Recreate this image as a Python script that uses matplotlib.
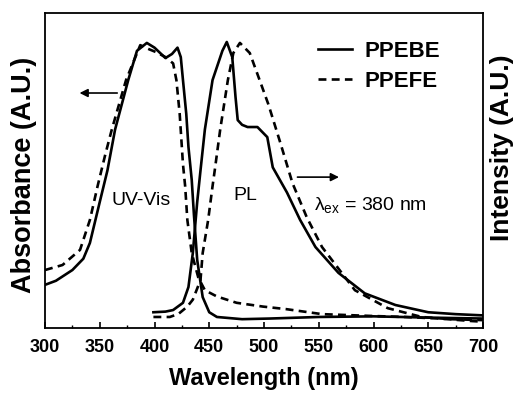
import matplotlib
matplotlib.use("Agg")
import matplotlib.pyplot as plt

# Datos -------------------------------------------------------------------
# UV-Vis (absorbancia, normalizada 0-1 en el eje)
uv_ppebe_x = [300, 310, 325, 335, 341, 350, 357, 364, 376, 384, 393, 400, 410,
              416, 421, 424, 426, 429, 431, 434, 436, 439, 444, 450, 457, 480,
              505, 550, 600, 650, 700]
uv_ppebe_y = [0.137, 0.15, 0.184, 0.22, 0.27, 0.40, 0.50, 0.63, 0.787, 0.88,
              0.905, 0.89, 0.857, 0.87, 0.89, 0.86, 0.787, 0.68, 0.575, 0.47,
              0.36, 0.216, 0.098, 0.05, 0.035, 0.028, 0.03, 0.035, 0.037, 0.033, 0.03]

uv_ppefe_x = [300, 316, 332, 341, 348, 355, 361, 374, 387, 395, 402, 410, 417,
              420, 423, 426, 428, 430, 434, 440, 446, 457, 475, 499, 520, 553,
              600, 629, 660, 690, 700]
uv_ppefe_y = [0.184, 0.20, 0.248, 0.343, 0.45, 0.55, 0.63, 0.787, 0.898, 0.885,
              0.875, 0.86, 0.84, 0.787, 0.68, 0.52, 0.45, 0.343, 0.238, 0.16,
              0.12, 0.10, 0.08, 0.068, 0.06, 0.044, 0.038, 0.035, 0.03, 0.022, 0.02]

# PL (intensidad, normalizada 0-1 en el eje)
pl_ppebe_x = [399, 410, 417, 426, 431, 435, 439, 442, 446, 453, 462, 466, 471,
              474, 476, 480, 485, 494, 503, 508, 521, 533, 547, 568, 592, 620,
              650, 675, 700]
pl_ppebe_y = [0.05, 0.052, 0.057, 0.08, 0.13, 0.238, 0.40, 0.50, 0.63, 0.787,
              0.88, 0.908, 0.86, 0.733, 0.66, 0.645, 0.638, 0.638, 0.606, 0.51,
              0.43, 0.343, 0.257, 0.175, 0.11, 0.073, 0.05, 0.044, 0.04]

pl_ppefe_x = [399, 414, 422, 430, 435, 442, 444, 449, 453, 455, 460, 467, 472,
              478, 487, 496, 504, 515, 526, 539, 553, 562, 583, 613, 644, 670, 700]
pl_ppefe_y = [0.035, 0.035, 0.045, 0.068, 0.09, 0.152, 0.238, 0.343, 0.45, 0.50,
              0.63, 0.787, 0.873, 0.905, 0.873, 0.787, 0.71, 0.587, 0.46, 0.352,
              0.257, 0.216, 0.12, 0.063, 0.035, 0.028, 0.025]

xticks = [300, 350, 400, 450, 500, 550, 600, 650, 700]

# Grafico -----------------------------------------------------------------
plt.rcParams["font.family"] = ["Liberation Sans", "DejaVu Sans"]
plt.rcParams["mathtext.fontset"] = "custom"
plt.rcParams["mathtext.rm"] = "Liberation Sans"

W, H = 515, 396
fig = plt.figure(figsize=(W / 100, H / 100), dpi=100)
ax = fig.add_axes([45 / W, 68 / H, 438 / W, 315 / H])

lw = 1.9
dash = (0, (3.0, 2.0))
ax.plot(uv_ppebe_x, uv_ppebe_y, color="black", lw=lw, label="PPEBE")
ax.plot(uv_ppefe_x, uv_ppefe_y, color="black", lw=lw, ls=dash, label="PPEFE")
ax.plot(pl_ppebe_x, pl_ppebe_y, color="black", lw=lw)
ax.plot(pl_ppefe_x, pl_ppefe_y, color="black", lw=lw, ls=dash)

ax.set_xlim(300, 700)
ax.set_ylim(0, 1)
ax.set_xticks(xticks)
ax.set_xticks(range(325, 700, 50), minor=True)
ax.tick_params(axis="x", which="major", direction="in", length=4, width=1.2,
               labelsize=13, pad=8)
ax.tick_params(axis="x", which="minor", direction="in", length=2.5, width=1.0)
for lab in ax.get_xticklabels():
    lab.set_fontweight("bold")
ax.set_yticks([])
for s in ax.spines.values():
    s.set_linewidth(1.3)

ax.set_xlabel("Wavelength (nm)", fontsize=17, fontweight="bold", labelpad=8)
fig.text(24 / W, 1 - 175 / H, "Absorbance (A.U.)", rotation=90, fontsize=19.5,
         fontweight="bold", ha="center", va="center")
fig.text(514 / W, 1 - 148 / H, "Intensity (A.U.)", rotation=90, fontsize=19,
         fontweight="bold", ha="right", va="center")

leg = ax.legend(loc="upper left", bbox_to_anchor=(318 / W, 1 - 41 / H),
                bbox_transform=fig.transFigure, frameon=False, borderpad=0,
                borderaxespad=0, fontsize=16, handlelength=1.55,
                handletextpad=0.55, labelspacing=0.4)
for t in leg.get_texts():
    t.set_fontweight("bold")

ax.text(388, 0.406, "UV-Vis", fontsize=14, ha="center", va="center")
ax.text(483, 0.42, "PL", fontsize=14, ha="center", va="center")
ax.text(546, 0.39, r"$\mathregular{\lambda_{ex}}$ = 380 nm", fontsize=14,
        ha="left", va="center")

ax.annotate("", xy=(329, 0.746), xytext=(368.5, 0.746),
            arrowprops=dict(arrowstyle="-|>", color="black", lw=1.2,
                            mutation_scale=12))
ax.annotate("", xy=(571, 0.479), xytext=(528, 0.479),
            arrowprops=dict(arrowstyle="-|>", color="black", lw=1.2,
                            mutation_scale=12))

fig.savefig("out.png", dpi=100)
